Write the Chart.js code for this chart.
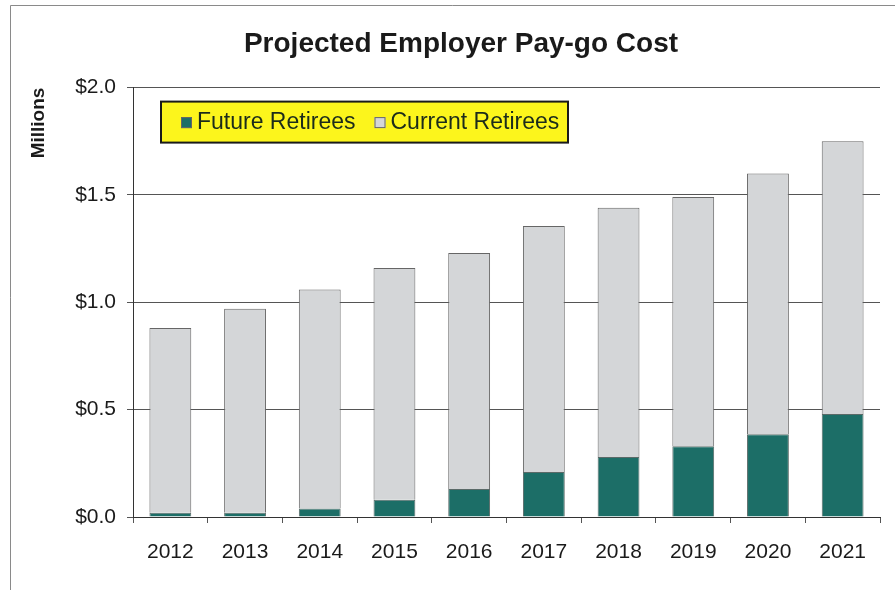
<!DOCTYPE html>
<html>
<head>
<meta charset="utf-8">
<script src="https://cdn.jsdelivr.net/npm/chart.js@4.4.1/dist/chart.umd.min.js"></script>
<style>
  html, body { margin: 0; padding: 0; background: #fff; }
  #wrap { width: 895px; height: 590px; }
</style>
</head>
<body>
<div id="wrap"><canvas id="myChart" width="895" height="590"></canvas></div>
<script>
// data (millions of dollars)
const years = ['2012', '2013', '2014', '2015', '2016', '2017', '2018', '2019', '2020', '2021'];
const futureRetirees = [0.02, 0.02, 0.04, 0.08, 0.13, 0.21, 0.28, 0.33, 0.385, 0.48];
const currentRetirees = [0.86, 0.95, 1.02, 1.08, 1.10, 1.145, 1.16, 1.16, 1.215, 1.27];
const yTicks = [0, 0.5, 1.0, 1.5, 2.0];

const FONT = "'Liberation Sans', Arial, sans-serif";
const teal = '#1c6e67';
const grey = '#d4d6d8';

// yellow legend box inside the plot
const boxLegend = {
  id: 'boxLegend',
  afterDraw(chart) {
    const ctx = chart.ctx;
    const a = chart.chartArea;
    const x = a.left + 28, y = a.top + 14, w = 407, h = 41;
    ctx.save();
    ctx.fillStyle = '#fcf51c';
    ctx.fillRect(x, y, w, h);
    ctx.lineWidth = 2;
    ctx.strokeStyle = '#1a1a1a';
    ctx.strokeRect(x, y, w, h);
    ctx.font = '23px ' + FONT;
    ctx.textBaseline = 'middle';
    let tx = x + 20;
    chart.data.datasets.forEach(ds => {
      ctx.fillStyle = ds.backgroundColor;
      ctx.fillRect(tx, y + h / 2 - 5, 11, 11);
      ctx.lineWidth = 1;
      ctx.strokeStyle = '#666';
      ctx.strokeRect(tx + 0.5, y + h / 2 - 4.5, 10, 10);
      ctx.fillStyle = '#1b2b1b';
      ctx.fillText(ds.label, tx + 16, y + h / 2 + 1);
      tx += 16 + ctx.measureText(ds.label).width + 19;
    });
    ctx.restore();
  }
};

// thin frame round the picture
const frame = {
  id: 'frame',
  beforeDraw(chart) {
    const ctx = chart.ctx;
    ctx.save();
    ctx.strokeStyle = '#8a8a8a';
    ctx.lineWidth = 1;
    ctx.beginPath();
    ctx.moveTo(10.5, 590);
    ctx.lineTo(10.5, 5.5);
    ctx.lineTo(895, 5.5);
    ctx.stroke();
    ctx.restore();
  }
};

const ctx = document.getElementById('myChart').getContext('2d');
new Chart(ctx, {
  type: 'bar',
  data: {
    labels: years,
    datasets: [
      {
        label: 'Future Retirees',
        data: futureRetirees,
        backgroundColor: teal,
        borderColor: '#5a6a68',
        borderWidth: 1,
        barPercentage: 0.56,
        categoryPercentage: 1
      },
      {
        label: 'Current Retirees',
        data: currentRetirees,
        backgroundColor: grey,
        borderColor: '#666',
        borderWidth: 1,
        barPercentage: 0.56,
        categoryPercentage: 1
      }
    ]
  },
  options: {
    responsive: false,
    animation: false,
    layout: { padding: { left: 42, right: 15, top: 3, bottom: 0 } },
    plugins: {
      legend: { display: false },
      tooltip: { enabled: false },
      title: {
        display: true,
        text: 'Projected Employer Pay-go Cost',
        color: '#1a1a1a',
        font: { family: FONT, size: 28, weight: 'bold' },
        padding: { top: 24, bottom: 27 }
      }
    },
    scales: {
      x: {
        stacked: true,
        grid: { drawOnChartArea: false, drawTicks: true, tickLength: 6, color: '#555' },
        border: { color: '#333', width: 1 },
        ticks: { color: '#1a1a1a', padding: 17, font: { family: FONT, size: 21 } },
        afterFit(scale) { scale.height = 73; }
      },
      y: {
        stacked: true,
        min: 0,
        max: 2,
        afterBuildTicks(scale) { scale.ticks = yTicks.map(v => ({ value: v })); },
        grid: { color: '#555', tickLength: 6, drawTicks: true },
        border: { color: '#333', width: 1 },
        ticks: {
          color: '#1a1a1a',
          padding: 11,
          font: { family: FONT, size: 21 },
          callback: v => '$' + Number(v).toFixed(1)
        },
        title: {
          display: true,
          text: 'Millions',
          align: 'end',
          color: '#1a1a1a',
          font: { family: FONT, size: 19, weight: 'bold' },
          padding: { top: -15, bottom: 0 }
        },
        afterFit(scale) { scale.width = 91; }
      }
    }
  },
  plugins: [frame, boxLegend]
});
</script>
</body>
</html>
